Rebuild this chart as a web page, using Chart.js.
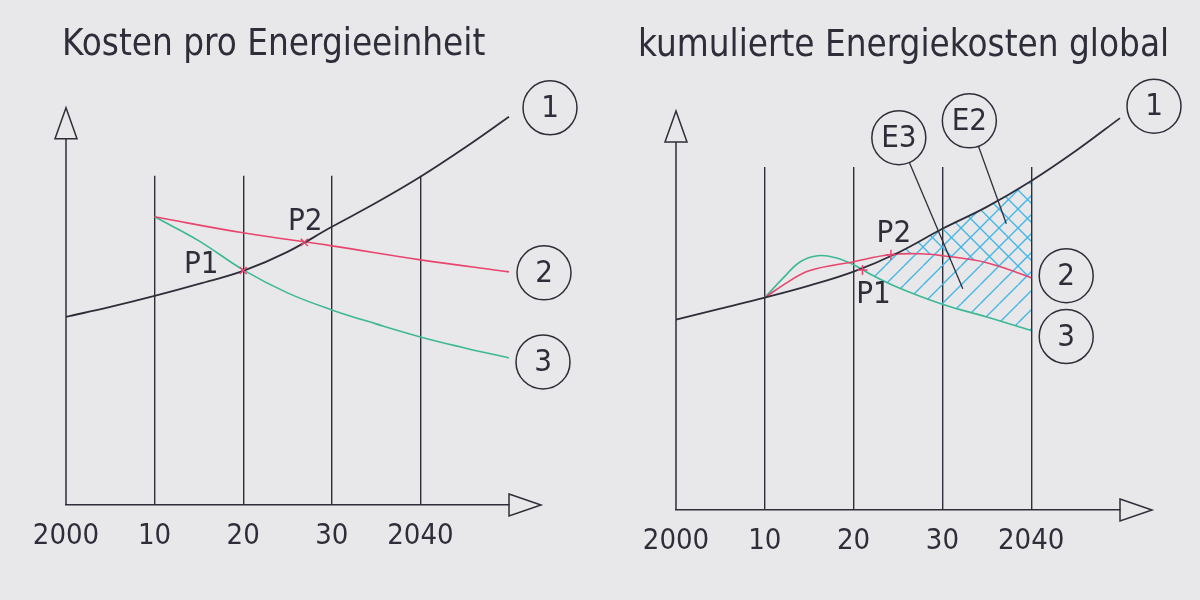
<!DOCTYPE html>
<html>
<head>
<meta charset="utf-8">
<script src="https://cdn.jsdelivr.net/npm/chart.js@4.4.1/dist/chart.umd.min.js"></script>
<style>
  html, body { margin:0; padding:0; background:#e8e8ea; }
  #stage { position:relative; width:1200px; height:600px; overflow:hidden; background:#e8e8ea; }
  .panel { position:absolute; top:0; width:600px; height:600px; }
</style>
</head>
<body>
<div id="stage">
  <div class="panel" style="left:0"><canvas id="leftChart" width="600" height="600"></canvas></div>
  <div class="panel" style="left:600px"><canvas id="rightChart" width="600" height="600"></canvas></div>
</div>
<script>
// ================= DATA =================
const tickYears  = [2000, 2010, 2020, 2030, 2040];
const tickLabels = ['2000', '10', '20', '30', '2040'];

// --- left: Kosten pro Energieeinheit ---
const leftTitle  = 'Kosten pro Energieeinheit';
const leftYears1 = [2000, 2005, 2010, 2015, 2020, 2025, 2030, 2035, 2040, 2045, 2050];
const leftCost1  = [47, 49.5, 52.25, 55.25, 58.5, 63.25, 69.5, 75.5, 82, 89.25, 97];
const leftYears2 = [2010, 2020, 2030, 2040, 2050];
const leftCost2  = [72, 68, 64.75, 61.25, 58.25];
const leftYears3 = [2010, 2015, 2020, 2025, 2030, 2035, 2040, 2045, 2050];
const leftCost3  = [72, 66, 58.75, 53, 48.75, 45.25, 42, 39.25, 36.75];
const leftPointNames = ['P1', 'P2'];
const leftPointYears = [2020, 2026.9];
const leftPointCost  = [58.6, 65.6];

// --- right: kumulierte Energiekosten global ---
const rightTitle  = 'kumulierte Energiekosten global';
const rightYears1 = [2000, 2005, 2010, 2015, 2020, 2025, 2030, 2035, 2040, 2045, 2050];
const rightCost1  = [47.75, 50.5, 53.25, 56.25, 59.75, 64.5, 70.5, 76, 82.5, 90, 98.25];
const rightYears2 = [2010, 2012.5, 2015, 2020, 2024, 2027.5, 2030, 2035, 2040];
const rightCost2  = [53.25, 57, 60, 62.25, 64, 64.25, 63.75, 62, 58.25];
const rightYears3 = [2010, 2012, 2014, 2016, 2018, 2020, 2022, 2025, 2030, 2035, 2040];
const rightCost3  = [53.25, 58, 62.25, 63.75, 63.25, 61.5, 59, 55.8, 51.6, 48.4, 45];
const rightPointNames = ['P1', 'P2'];
const rightPointYears = [2021, 2024.2];
const rightPointCost  = [60.2, 64];
const rightAreaNames = ['E3', 'E2'];
const rightAreaYears = [2032.3, 2037.2];
const rightAreaCost  = [55.5, 71.75];

const curveTags = ['1', '2', '3'];

// ================= STYLE =================
const INK = '#2e2e3a';
const RED = '#e8456e';
const GREEN = '#3db894';
const HATCH = '#44b6e6';
const NARROW = "'DejaVu Sans Condensed', 'DejaVu Sans', sans-serif";
const TITLE_FONT = "'DejaVu Sans Condensed', 'DejaVu Sans', sans-serif";

function pts(xs, ys) { return xs.map((x, i) => ({ x, y: ys[i] })); }

function hatchPattern(dir) {
  const s = 19;
  const c = document.createElement('canvas');
  c.width = s; c.height = s;
  const g = c.getContext('2d');
  g.strokeStyle = HATCH; g.lineWidth = 1.4;
  g.beginPath();
  for (const k of [-s, 0, s]) {
    if (dir > 0) { g.moveTo(k, s); g.lineTo(k + s, 0); }
    else { g.moveTo(k, 0); g.lineTo(k + s, s); }
  }
  g.stroke();
  return g.createPattern(c, 'repeat');
}

function circleText(ctx, cx, cy, text) {
  ctx.beginPath();
  ctx.arc(cx, cy, 27, 0, Math.PI * 2);
  ctx.stroke();
  ctx.fillText(text, cx, cy + 1);
}

const decor = {
  id: 'decor',
  afterDraw(chart, args, o) {
    const { ctx, chartArea: a } = chart;
    const xs = chart.scales.x, ys = chart.scales.y;
    ctx.save();
    ctx.strokeStyle = INK; ctx.fillStyle = INK; ctx.lineWidth = 1.5;
    // y axis with open arrow head
    const x0 = xs.getPixelForValue(xs.min);
    const tip = a.top - o.arrowRise;
    ctx.beginPath(); ctx.moveTo(x0, a.bottom); ctx.lineTo(x0, tip + 31); ctx.stroke();
    ctx.beginPath(); ctx.moveTo(x0, tip); ctx.lineTo(x0 - 11, tip + 31); ctx.lineTo(x0 + 11, tip + 31); ctx.closePath(); ctx.stroke();
    // x axis arrow head
    const x1 = xs.getPixelForValue(xs.max);
    ctx.beginPath(); ctx.moveTo(x1, a.bottom - 11); ctx.lineTo(x1 + 32, a.bottom); ctx.lineTo(x1, a.bottom + 11); ctx.closePath(); ctx.stroke();

    ctx.font = '31px ' + NARROW;
    ctx.textAlign = 'center'; ctx.textBaseline = 'middle';
    chart.data.datasets.forEach((ds, i) => {
      const meta = chart.getDatasetMeta(i);
      if (ds.tag) {
        const last = meta.data[meta.data.length - 1];
        circleText(ctx, last.x + ds.tagOffset[0], last.y + ds.tagOffset[1], ds.tag);
      }
      if (ds.pointNames) {
        meta.data.forEach((p, j) => {
          const off = ds.nameOffsets[j];
          ctx.fillText(ds.pointNames[j], p.x + off[0], p.y + off[1]);
        });
      }
    });
    (o.areas || []).forEach(ar => {
      const tx = xs.getPixelForValue(ar.x), ty = ys.getPixelForValue(ar.y);
      const cx = tx + ar.off[0], cy = ty + ar.off[1];
      const dx = tx - cx, dy = ty - cy, len = Math.hypot(dx, dy);
      ctx.beginPath();
      ctx.moveTo(cx + dx / len * 27, cy + dy / len * 27);
      ctx.lineTo(tx, ty);
      ctx.lineWidth = 1.3; ctx.stroke(); ctx.lineWidth = 1.5;
      circleText(ctx, cx, cy, ar.name);
    });
    ctx.restore();
  }
};

function xScale() {
  return {
    type: 'linear', min: 2000, max: 2050,
    afterFit: s => { s.height = 60; },
    afterBuildTicks: s => { s.ticks = [...tickYears, 2050].map(v => ({ value: v })); },
    ticks: {
      autoSkip: false, maxRotation: 0, padding: 14, color: INK,
      font: { family: NARROW, size: 29 },
      callback: v => { const k = tickYears.indexOf(v); return k >= 0 ? tickLabels[k] : ''; }
    },
    grid: {
      drawTicks: false, lineWidth: 1.4,
      color: c => (c.tick && c.tick.value > 2000 && c.tick.value < 2050) ? INK : 'transparent'
    },
    border: { display: true, color: INK, width: 1.6 }
  };
}

function sideScale(max, w, pos) {
  return {
    type: 'linear', min: 0, max: max, position: pos,
    afterFit: s => { s.width = w; },
    ticks: { display: false }, grid: { display: false }, border: { display: false }
  };
}

function curve(data, color, width, extra) {
  return Object.assign({
    data, borderColor: color, borderWidth: width, pointRadius: 0, fill: false,
    tension: 0.4, clip: false, yAxisID: 'y'
  }, extra || {});
}

function markers(years, cost, names, offsets, style) {
  return {
    data: pts(years, cost), showLine: false, pointStyle: style, pointRadius: 5, yAxisID: 'y',
    borderColor: RED, pointBorderWidth: 1.5, borderWidth: 1.5, backgroundColor: RED,
    fill: false, clip: false, order: -1, pointNames: names, nameOffsets: offsets
  };
}

function baseOptions(title, titleSize, pad, titlePad, yMax, yW, y2W, arrowRise, areas) {
  return {
    responsive: false, animation: false, devicePixelRatio: 1,
    layout: { padding: pad },
    plugins: {
      legend: { display: false }, tooltip: { enabled: false },
      title: {
        display: true, text: title, align: 'start', color: INK,
        font: { family: TITLE_FONT, size: titleSize, weight: 'normal', lineHeight: 1.2 }, padding: titlePad
      },
      decor: { arrowRise, areas }
    },
    scales: { x: xScale(), y: sideScale(yMax, yW, 'left'), y2: sideScale(yMax, y2W, 'right') }
  };
}

// ---------- left chart ----------
new Chart(document.getElementById('leftChart'), {
  type: 'line',
  data: {
    datasets: [
      curve(pts(leftYears1, leftCost1), INK, 1.8, { tag: curveTags[0], tagOffset: [41, -9] }),
      curve(pts(leftYears2, leftCost2), RED, 1.6, { tag: curveTags[1], tagOffset: [35, 1] }),
      curve(pts(leftYears3, leftCost3), GREEN, 1.6, { tag: curveTags[2], tagOffset: [34, 4] }),
      markers(leftPointYears, leftPointCost, leftPointNames, [[-42, -6], [1, -20]], 'crossRot')
    ]
  },
  options: baseOptions(leftTitle, 36.5, { left: 62, right: 6, top: 0, bottom: 35 },
    { top: 24, bottom: 108 }, 82.25, 4, 85, 68, []),
  plugins: [decor]
});

// ---------- right chart ----------
const rightAreas = rightAreaNames.map((n, i) => ({
  name: n, x: rightAreaYears[i], y: rightAreaCost[i], off: [[-64, -151], [-37, -103]][i]
}));

new Chart(document.getElementById('rightChart'), {
  type: 'line',
  data: {
    datasets: [
      curve(pts(rightYears1, rightCost1), INK, 1.8, { tag: curveTags[0], tagOffset: [34, -12] }),
      curve(pts(rightYears2, rightCost2), RED, 1.6, {
        tag: curveTags[1], tagOffset: [35, -2],
        fill: { target: 0, above: 'rgba(0,0,0,0)', below: hatchPattern(-1) }
      }),
      curve(pts(rightYears3, rightCost3), GREEN, 1.6, {
        tag: curveTags[2], tagOffset: [35, 6],
        fill: { target: 0, above: 'rgba(0,0,0,0)', below: hatchPattern(1) }
      }),
      markers(rightPointYears, rightPointCost, rightPointNames, [[11, 25], [3, -21]], 'cross')
    ]
  },
  options: baseOptions(rightTitle, 36.5, { left: 38, right: 4, top: 0, bottom: 30 },
    { top: 24.5, bottom: 98.7 }, 86, 38, 76, 56, rightAreas),
  plugins: [decor]
});
</script>
</body>
</html>
